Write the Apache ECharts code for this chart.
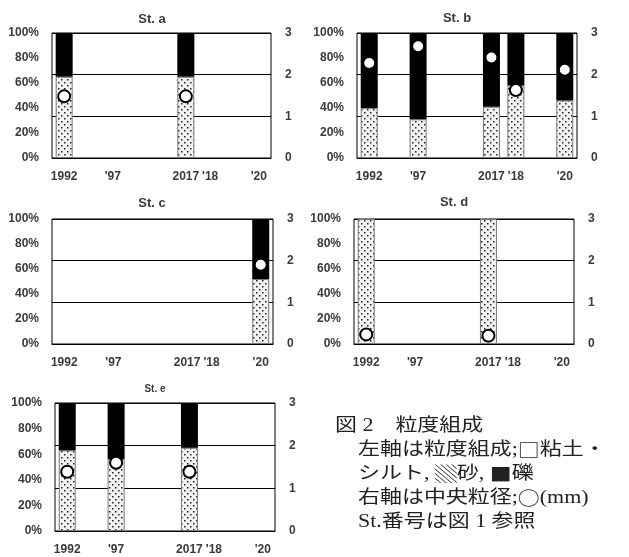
<!DOCTYPE html>
<html>
<head>
<meta charset="utf-8">
<script src="https://cdn.jsdelivr.net/npm/echarts@6/dist/echarts.min.js"></script>
<style>
  html, body { margin: 0; padding: 0; background: #fff; }
  #chart { width: 629px; height: 557px; }
</style>
</head>
<body>
<div id="chart"></div>
<script>
// 9 equally spaced category slots, only some carry a label
const slots = ['1992', 's1', "'97", 's3', 's4', '2017', "'18", 's7', "'20"]
const tickLabels = ['1992', '', "'97", '', '', '2017', "'18", '', "'20"]
const leftTicks = [0, 20, 40, 60, 80, 100]   // %
const rightTicks = [0, 1, 2, 3]              // mm

const stations = ['St. a', 'St. b', 'St. c', 'St. d', 'St. e']

// sand %, gravel %, median grain size (mm)
const sandA = [65, '-', '-', '-', '-', 65, '-', '-', '-']
const gravelA = [35, '-', '-', '-', '-', 35, '-', '-', '-']
const medianA = [1.48, '-', '-', '-', '-', 1.48, '-', '-', '-']

const sandB = [40, '-', 31, '-', '-', 41, 58, '-', 46]
const gravelB = [60, '-', 69, '-', '-', 59, 42, '-', 54]
const medianB = [2.28, '-', 2.68, '-', '-', 2.41, 1.63, '-', 2.12]

const sandC = ['-', '-', '-', '-', '-', '-', '-', '-', 52]
const gravelC = ['-', '-', '-', '-', '-', '-', '-', '-', 48]
const medianC = ['-', '-', '-', '-', '-', '-', '-', '-', 1.9]

const sandD = [100, '-', '-', '-', '-', 100, '-', '-', '-']
const gravelD = [0, '-', '-', '-', '-', 0, '-', '-', '-']
const medianD = [0.23, '-', '-', '-', '-', 0.2, '-', '-', '-']

const sandE = [63, '-', 56, '-', '-', 65, '-', '-', '-']
const gravelE = [37, '-', 44, '-', '-', 35, '-', '-', '-']
const medianE = [1.39, '-', 1.6, '-', '-', 1.39, '-', '-', '-']

// {c|..} = symbols drawn with the CJK font
const captionLines = [
  '図 2\u3000粒度組成',
  '左軸は粒度組成;{c|□}粘土・',
  'シルト, {c|▒}砂, {c|■}礫',
  '右軸は中央粒径;{c|○}(mm)',
  'St.番号は図 1 参照'
]

const panels = [
  { sand: sandA, gravel: gravelA, median: medianA, grid: { left: 52, top: 33, width: 219, height: 125 }, title: [152, 19], titleSize: 13 },
  { sand: sandB, gravel: gravelB, median: medianB, grid: { left: 357, top: 33, width: 220, height: 125 }, title: [457, 18], titleSize: 13 },
  { sand: sandC, gravel: gravelC, median: medianC, grid: { left: 52, top: 219, width: 221, height: 125 }, title: [152, 203], titleSize: 13 },
  { sand: sandD, gravel: gravelD, median: medianD, grid: { left: 354, top: 219, width: 220, height: 125 }, title: [454, 202], titleSize: 13 },
  { sand: sandE, gravel: gravelE, median: medianE, grid: { left: 55, top: 403, width: 220, height: 128 }, title: [155, 389], titleSize: 10 }
]

// dotted fill for sand
const makeDots = () => {
  const c = document.createElement('canvas')
  c.width = 6
  c.height = 6
  const ctx = c.getContext('2d')
  ctx.fillStyle = '#f3f3f3'
  ctx.fillRect(0, 0, 6, 6)
  ctx.fillStyle = '#222'
  ctx.fillRect(1, 1, 1.5, 1.5)
  ctx.fillRect(4, 4, 1.5, 1.5)
  return c
}
const dots = { image: makeDots(), repeat: 'repeat' }

const labelFont = { color: '#3a3a3a', fontFamily: 'Liberation Sans', fontWeight: 'bold', fontSize: 12 }

const grids = [], xAxes = [], yAxes = [], series = [], titles = []

panels.forEach((p, i) => {
  grids.push({ ...p.grid, show: true, borderColor: '#000', borderWidth: 1, backgroundColor: '#fff' })
  titles.push({
    text: stations[i],
    left: p.title[0],
    top: p.title[1],
    textAlign: 'center',
    textVerticalAlign: 'middle',
    padding: 0,
    textStyle: { ...labelFont, fontSize: p.titleSize }
  })
  xAxes.push({
    type: 'category',
    gridIndex: i,
    data: slots,
    axisLine: { lineStyle: { color: '#000', width: 1 } },
    axisTick: { show: false },
    axisLabel: { ...labelFont, interval: 0, margin: 13, formatter: (v, idx) => tickLabels[idx] }
  })
  yAxes.push({
    type: 'value',
    gridIndex: i,
    min: leftTicks[0],
    max: leftTicks[leftTicks.length - 1],
    interval: 20,
    axisLine: { show: false },
    axisTick: { show: false },
    splitLine: { show: false },
    axisLabel: { ...labelFont, margin: 13, formatter: '{value}%' }
  })
  yAxes.push({
    type: 'value',
    gridIndex: i,
    position: 'right',
    min: rightTicks[0],
    max: rightTicks[rightTicks.length - 1],
    interval: 1,
    axisLine: { show: false },
    axisTick: { show: false },
    splitLine: { show: true, lineStyle: { color: '#000', width: 1 } },
    axisLabel: { ...labelFont, margin: 14 }
  })
  series.push({
    name: 'sand',
    type: 'bar',
    stack: 'st' + i,
    xAxisIndex: i,
    yAxisIndex: i * 2,
    barWidth: 17,
    data: p.sand,
    itemStyle: { color: dots, borderColor: '#7a7a7a', borderWidth: 1 },
    silent: true
  })
  series.push({
    name: 'gravel',
    type: 'bar',
    stack: 'st' + i,
    xAxisIndex: i,
    yAxisIndex: i * 2,
    barWidth: 17,
    data: p.gravel,
    itemStyle: { color: '#000', borderColor: '#000', borderWidth: 0 },
    silent: true
  })
  series.push({
    name: 'median',
    type: 'scatter',
    xAxisIndex: i,
    yAxisIndex: i * 2 + 1,
    symbol: 'circle',
    symbolSize: 12,
    data: p.median,
    itemStyle: { color: '#fff', borderColor: '#000', borderWidth: 2, opacity: 1 },
    z: 5,
    silent: true
  })
})

const captionText = captionLines.map((t, k) => ({
  type: 'text',
  x: k === 0 ? 335 : 358,
  y: 426 + k * 24,
  scaleX: 1.22,
  style: {
    text: t,
    fontSize: 18,
    fontFamily: '"Liberation Serif", "Noto Sans CJK JP"',
    fill: '#222',
    align: 'left',
    verticalAlign: 'middle',
    rich: {
      c: { fontSize: 18, fontFamily: '"Noto Sans CJK JP"', fill: '#222' }
    }
  }
}))

const myChart = echarts.init(document.getElementById('chart'))
myChart.setOption({
  backgroundColor: '#fff',
  animation: false,
  title: titles,
  grid: grids,
  xAxis: xAxes,
  yAxis: yAxes,
  series: series,
  graphic: captionText
})
</script>
</body>
</html>
